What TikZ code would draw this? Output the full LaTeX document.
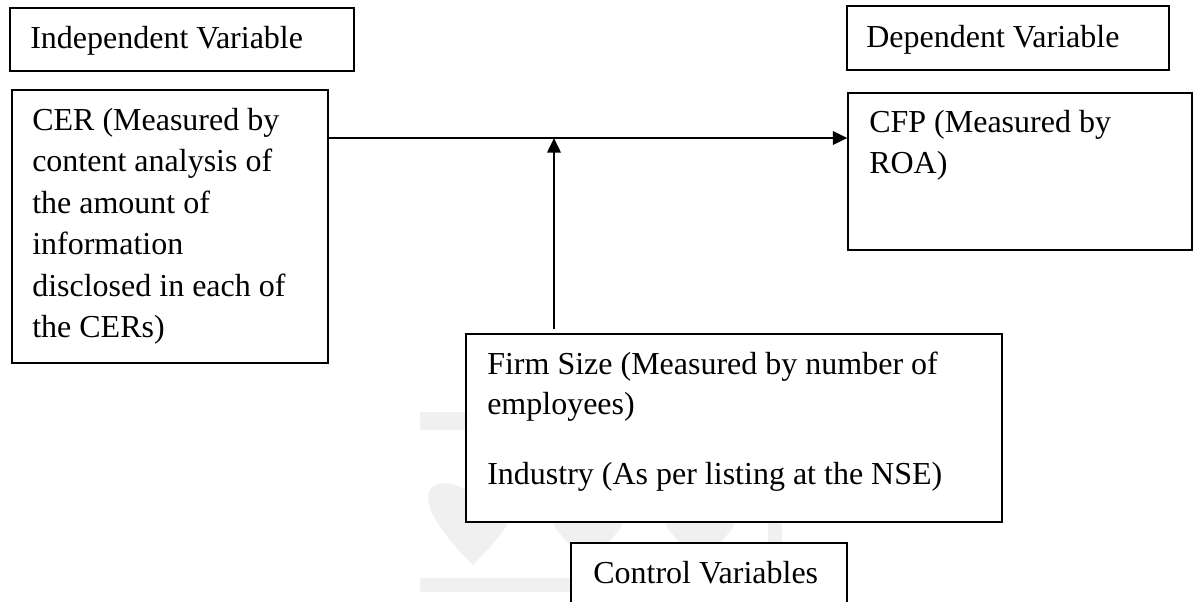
\documentclass[tikz,border=0pt]{standalone}
\usepackage{fontspec}
\setmainfont{Liberation Serif}
\usetikzlibrary{arrows.meta,fit}

\tikzset{
  box/.style={draw,fill=white,line width=0.85pt,inner sep=0pt},
  txt/.style={anchor=base west,inner sep=0pt,font=\fontsize{24}{31}\selectfont},
  flow/.style={line width=2pt,-{Triangle[length=11pt,width=10pt]}},
  wmark/.style={fill=black!6,draw=none}
}

\begin{document}
\begin{tikzpicture}[x=0.75pt,y=-0.75pt]
\useasboundingbox (0,0) rectangle (1193,601);
\clip (0,0) rectangle (1193,601);

% faint logo in the background
\fill[wmark] (420,412) rectangle (470,430);
\foreach \cx in {473,588,700}
  \fill[wmark] (\cx,565) .. controls (\cx-25,540) and (\cx-45,515) .. (\cx-45,497)
    .. controls (\cx-45,480) and (\cx-20,478) .. (\cx,495)
    .. controls (\cx+20,478) and (\cx+45,480) .. (\cx+45,497)
    .. controls (\cx+45,515) and (\cx+25,540) .. (\cx,565);
\fill[wmark] (768,515) rectangle (782,565);
\fill[wmark] (420,578) rectangle (575,592);

% boxes
\node[box,fit={(10,8) (354,71)}] (indep) {};
\node[box,fit={(12,90) (328,363)}] (cer) {};
\node[box,fit={(847,6) (1169,70)}] (dep) {};
\node[box,fit={(848,93) (1192,250)}] (cfp) {};
\node[box,fit={(466,334) (1002,522)}] (firm) {};
\node[box,fit={(571,543) (847,610)}] (ctrl) {};

% labels
\node[txt] (indeplbl) at (30,48) {Independent Variable};
\node[txt] (cer1) at (32,130) {CER (Measured by};
\node[txt] (cer2) at (32,171.5) {content analysis of};
\node[txt] (cer3) at (32,213) {the amount of};
\node[txt] (cer4) at (32,254.5) {information};
\node[txt] (cer5) at (32,296) {disclosed in each of};
\node[txt] (cer6) at (32,337.5) {the CERs)};
\node[txt] (deplbl) at (866,47) {Dependent Variable};
\node[txt] (cfp1) at (869,132) {CFP (Measured by};
\node[txt] (cfp2) at (869,173) {ROA)};
\node[txt] (firm1) at (487,374) {Firm Size (Measured by number of};
\node[txt] (firm2) at (487,414) {employees)};
\node[txt] (firm3) at (487,484) {Industry (As per listing at the NSE)};
\node[txt] (ctrllbl) at (593,583) {Control Variables};

% arrows
\coordinate (join) at (554,138);
\draw[flow] (cer.east |- join) -- (cfp.west |- join);
\draw[flow] ([yshift=3pt]firm.north -| join) -- (join);
\end{tikzpicture}
\end{document}
